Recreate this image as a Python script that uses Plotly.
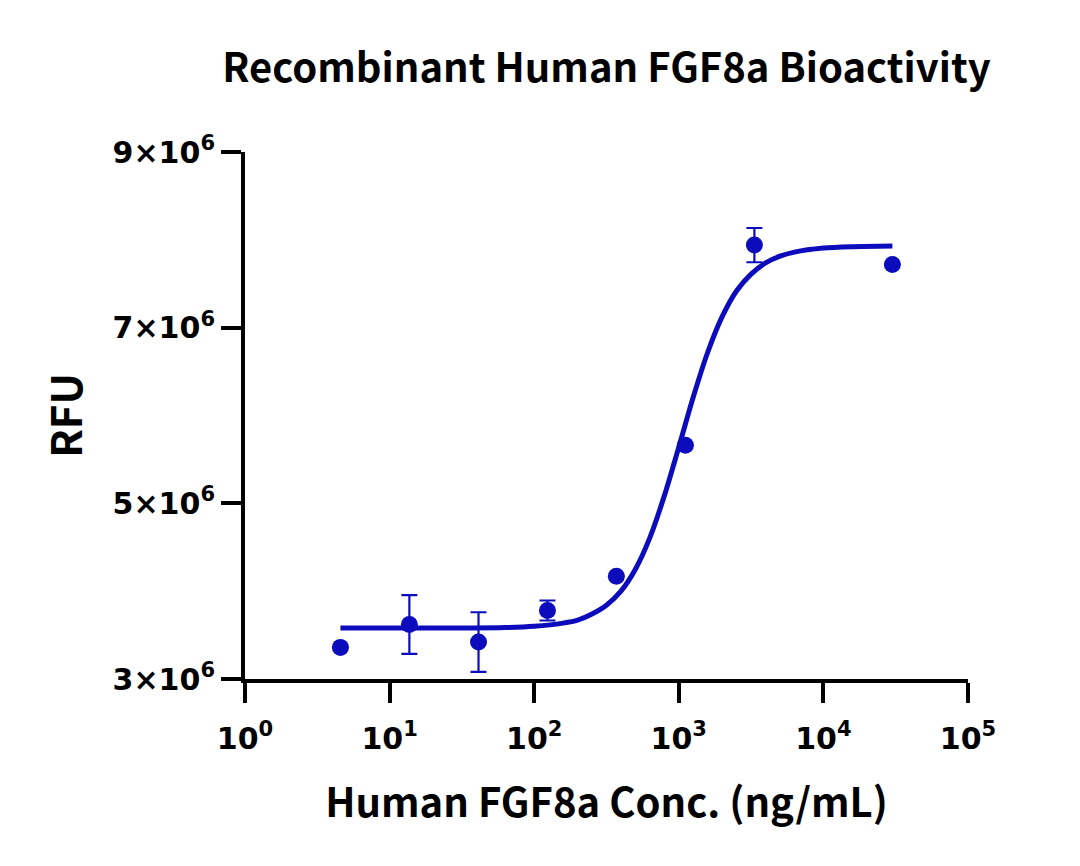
import plotly.graph_objects as go

# Measured data points
conc = [4.57, 13.7, 41.2, 123.5, 370, 1111, 3333, 30000]
rfu = [3.36e6, 3.62e6, 3.42e6, 3.78e6, 4.17e6, 5.66e6, 7.94e6, 7.72e6]
rfu_err = [0, 0.335e6, 0.34e6, 0.114e6, 0, 0, 0.195e6, 0]

# Fitted curve
fit_conc = [4.57, 10, 31.6, 63.1, 100, 158, 200, 251, 316, 398, 501, 631, 794,
            1000, 1259, 1585, 1995, 2512, 3162, 3981, 5012, 6310, 10000, 15849, 30000]
fit_rfu = [3.58e6, 3.58e6, 3.58e6, 3.585e6, 3.60e6, 3.636e6, 3.67e6, 3.74e6,
           3.84e6, 4.00e6, 4.25e6, 4.61e6, 5.085e6, 5.64e6, 6.21e6, 6.72e6,
           7.125e6, 7.42e6, 7.61e6, 7.737e6, 7.814e6, 7.86e6, 7.906e6, 7.922e6, 7.93e6]

x_tickvals = [1, 10, 100, 1000, 10000, 100000]
x_ticktext = ["10<sup>0</sup>", "10<sup>1</sup>", "10<sup>2</sup>",
              "10<sup>3</sup>", "10<sup>4</sup>", "10<sup>5</sup>"]
y_tickvals = [3e6, 5e6, 7e6, 9e6]
y_ticktext = ["3×10<sup>6</sup>", "5×10<sup>6</sup>", "7×10<sup>6</sup>", "9×10<sup>6</sup>"]

blue = "#0c0cbc"

fig = go.Figure()
fig.add_trace(go.Scatter(
    x=fit_conc, y=fit_rfu, mode="lines",
    line=dict(color=blue, width=5, shape="spline", smoothing=0.8),
    hoverinfo="skip", showlegend=False))
fig.add_trace(go.Scatter(
    x=conc, y=rfu, mode="markers",
    marker=dict(color=blue, size=17),
    error_y=dict(type="data", array=rfu_err, visible=True,
                 color=blue, thickness=2.2, width=8),
    showlegend=False))

title_font = dict(family="Noto Sans CJK SC", size=40, color="black")
tick_font = dict(family="DejaVu Sans", size=30, color="black", weight="bold")

fig.update_layout(
    width=1080, height=866,
    margin=dict(l=245, r=112, t=152, b=187),
    paper_bgcolor="white", plot_bgcolor="white",
    title=dict(text="<b>Recombinant Human FGF8a Bioactivity</b>", font=title_font,
               x=0.5, xref="paper", xanchor="center", y=0.921, yanchor="middle"),
    xaxis=dict(type="log", range=[0, 5], tickvals=x_tickvals, ticktext=x_ticktext,
               showgrid=False, zeroline=False, showline=True, linecolor="black",
               linewidth=4, ticks="outside", ticklen=20, tickwidth=4, tickcolor="black",
               tickfont=tick_font, ticklabelstandoff=10,
               title=dict(text="<b>Human FGF8a Conc. (ng/mL)</b>", font=title_font, standoff=35)),
    yaxis=dict(range=[3e6, 9e6], tickvals=y_tickvals, ticktext=y_ticktext,
               showgrid=False, zeroline=False, showline=True, linecolor="black",
               linewidth=4, ticks="outside", ticklen=20, tickwidth=4, tickcolor="black",
               tickfont=tick_font,
               title=dict(text="<b>RFU</b>", font=dict(family="Noto Sans CJK SC", size=42, color="black"),
                          standoff=18)),
)

fig.write_html("out.html")
